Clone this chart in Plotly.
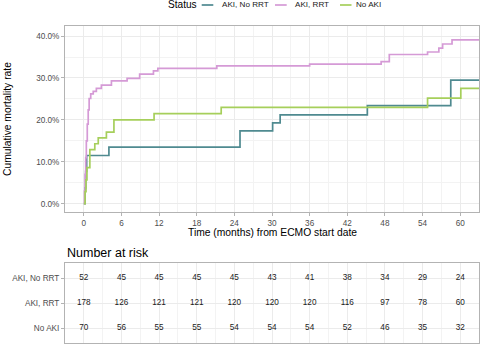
import plotly.graph_objects as go

# ---------------- data ----------------
series_names = ["AKI, No RRT", "AKI, RRT", "No AKI"]
series_colors = ["#4F8A90", "#D59AD6", "#A6CF5B"]

t_no_rrt = [0, 0.2, 0.3, 0.45, 4.0, 24.9, 30.1, 31.3, 45.2, 58.5, 63]
y_no_rrt = [0, 3.8, 7.7, 11.5, 13.5, 17.4, 19.3, 21.2, 23.4, 29.5, 29.5]

t_rrt = [0, 0.1, 0.2, 0.3, 0.4, 0.55, 0.7, 0.85, 1.1, 1.5, 2.0, 2.8, 4.4, 6.9,
         8.9, 11.1, 11.8, 21.2, 36.0, 47.4, 48.7, 54.8, 56.6, 57.2, 58.7, 63]
y_rrt = [0, 3, 7, 11, 15, 19, 22.4, 25.1, 26.2, 26.8, 27.5, 28.3, 29.3, 29.9,
         30.9, 31.7, 32.3, 32.9, 33.3, 33.9, 35.6, 36.2, 37.1, 38.1, 39.1, 39.1]

t_no_aki = [0, 0.2, 0.35, 0.5, 0.96, 1.75, 2.3, 3.6, 4.8, 11.2, 21.9, 54.8, 60.1, 63]
y_no_aki = [0, 2.9, 5.7, 8.6, 12.9, 14.3, 15.7, 17.1, 20.0, 21.5, 23.0, 25.2, 27.5, 27.5]

risk_times = [0, 6, 12, 18, 24, 30, 36, 42, 48, 54, 60]
risk_no_rrt = [52, 45, 45, 45, 45, 43, 41, 38, 34, 29, 24]
risk_rrt = [178, 126, 121, 121, 120, 120, 120, 116, 97, 78, 60]
risk_no_aki = [70, 56, 55, 55, 54, 54, 54, 52, 46, 35, 32]

x_ticks = [0, 6, 12, 18, 24, 30, 36, 42, 48, 54, 60]
y_ticks = [0, 10, 20, 30, 40]
y_tick_labels = ["0.0%", "10.0%", "20.0%", "30.0%", "40.0%"]

# ---------------- layout helpers ----------------
W, H = 480, 345
def px(x):
    return x / W
def py(y):
    return 1 - y / H

FONT = "Liberation Sans, Arial, sans-serif"
GRID = "#ebebeb"
MINOR = "#f3f3f3"
BORDER = "#b3b3b3"
TICKFONT = dict(family=FONT, size=8.2, color="#4d4d4d")

fig = go.Figure()

curves = [(t_no_rrt, y_no_rrt), (t_rrt, y_rrt), (t_no_aki, y_no_aki)]
for (tt, yy), name, col in zip(curves, series_names, series_colors):
    fig.add_trace(go.Scatter(x=tt, y=yy, mode="lines", name=name,
                             line=dict(color=col, width=1.7, shape="hv"),
                             xaxis="x", yaxis="y", showlegend=False,
                             hoverinfo="skip"))

# risk table
risk_rows = [risk_no_rrt, risk_rrt, risk_no_aki]
row_pos = [3, 2, 1]
for vals, pos in zip(risk_rows, row_pos):
    fig.add_trace(go.Scatter(x=risk_times, y=[pos] * len(vals), mode="text",
                             text=[str(v) for v in vals],
                             textfont=dict(family=FONT, size=8.2, color="#1a1a1a"),
                             xaxis="x2", yaxis="y2", showlegend=False,
                             hoverinfo="skip"))

xdom = [px(65), px(479)]
axis_common = dict(showline=True, linecolor=BORDER, linewidth=1, mirror=True,
                   gridcolor=GRID, gridwidth=1, zeroline=False)

fig.update_layout(
    width=W, height=H,
    margin=dict(l=0, r=0, t=0, b=0),
    paper_bgcolor="white", plot_bgcolor="white",
    xaxis=dict(domain=xdom, range=[-3, 63], tickvals=x_ticks,
               ticks="outside", ticklen=3, tickcolor=BORDER, tickfont=TICKFONT,
               minor=dict(dtick=3, tick0=0, showgrid=True, gridcolor=MINOR, ticks=""),
               anchor="y", **axis_common),
    yaxis=dict(domain=[py(212), py(26)], range=[-1.98, 42.4], tickvals=y_ticks,
               ticktext=y_tick_labels, ticks="outside", ticklen=3, tickcolor=BORDER,
               tickfont=TICKFONT,
               minor=dict(dtick=5, tick0=0, showgrid=True, gridcolor=MINOR, ticks=""),
               anchor="x", **axis_common),
    xaxis2=dict(domain=xdom, range=[-3, 63], tickvals=x_ticks, showticklabels=False,
                ticks="", minor=dict(dtick=3, tick0=0, showgrid=True, gridcolor=MINOR),
                anchor="y2", **axis_common),
    yaxis2=dict(domain=[py(343), py(263)], range=[0.4, 3.6], tickvals=row_pos,
                ticktext=series_names, ticks="outside", ticklen=3, tickcolor=BORDER,
                tickfont=TICKFONT, anchor="x2", **axis_common),
)

def note(text, x, y, size, color="#000000", xanchor="center", angle=0):
    fig.add_annotation(text=text, x=px(x), y=py(y), xanchor=xanchor, yanchor="middle",
                       xref="paper", yref="paper", showarrow=False, textangle=angle,
                       font=dict(family=FONT, size=size, color=color))

# titles
note("Time (months) from ECMO start date", 272.5, 232, 10.3)
note("Cumulative mortality rate", 8, 119, 10.3, angle=-90)
note("Number at risk", 65, 253, 12.5, xanchor="left")

# legend (manual, ggplot style)
note("Status", 165.5, 5, 10.1, xanchor="left")
leg_items = [(201.7, 213.3, 220), (275, 286.7, 293), (340, 351.5, 353.5)]
for (x0, x1, xt), name, col in zip(leg_items, series_names, series_colors):
    fig.add_shape(type="line", x0=px(x0), x1=px(x1), y0=py(5), y1=py(5),
                  xref="paper", yref="paper", line=dict(color=col, width=1.7))
    note(name, xt, 5, 8.1, color="#1a1a1a", xanchor="left")

fig.write_html("out.html")
